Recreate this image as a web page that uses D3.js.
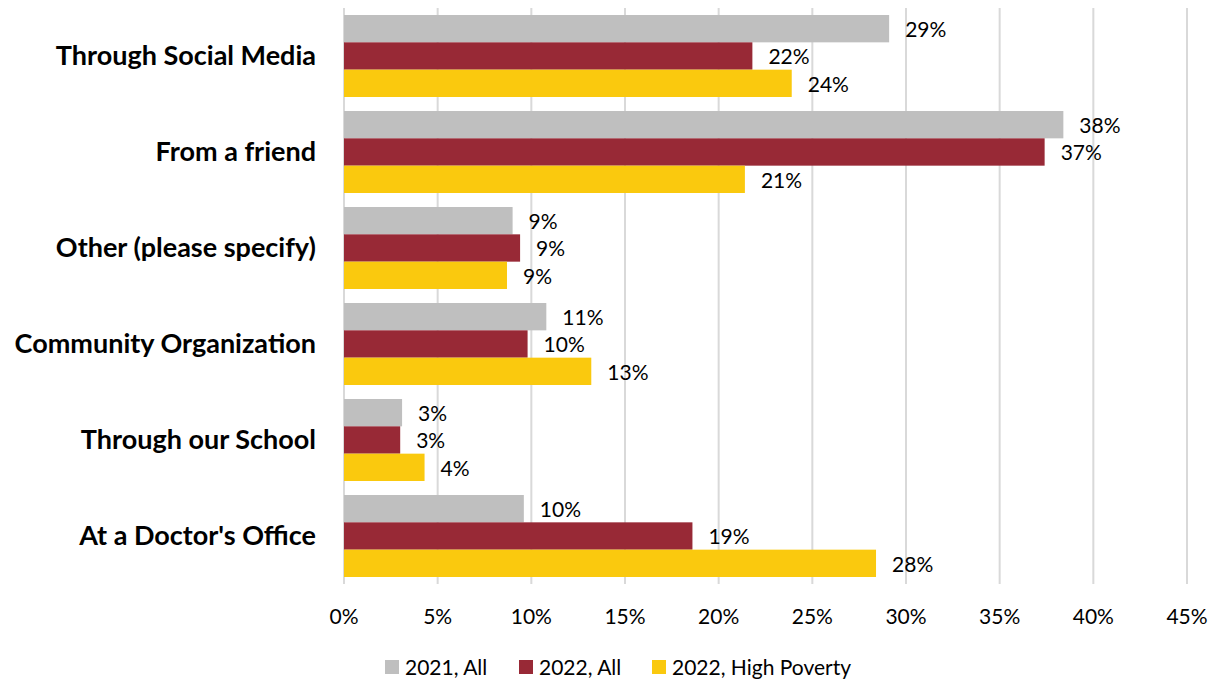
<!DOCTYPE html>
<html>
<head>
<meta charset="utf-8">
<script src="https://cdn.jsdelivr.net/npm/d3@7"></script>
<style>
  body { margin: 0; background: #fff; }
  text { font-family: Lato, "Open Sans", sans-serif; fill: #000; }
</style>
</head>
<body>
<div class="chart"></div>
<script>
var categories = ["Through Social Media", "From a friend", "Other (please specify)", "Community Organization", "Through our School", "At a Doctor's Office"];
var seriesNames = ["2021, All", "2022, All", "2022, High Poverty"];
var colours = ["#bfbfbf", "#982936", "#fac90e"];
var v2021All = [29.1, 38.4, 9.0, 10.8, 3.1, 9.6];
var v2022All = [21.8, 37.4, 9.4, 9.8, 3.0, 18.6];
var v2022Pov = [23.9, 21.4, 8.7, 13.2, 4.3, 28.4];
var labels2021All = ["29%", "38%", "9%", "11%", "3%", "10%"];
var labels2022All = ["22%", "37%", "9%", "10%", "3%", "19%"];
var labels2022Pov = ["24%", "21%", "9%", "13%", "4%", "28%"];
var ticks = [0, 5, 10, 15, 20, 25, 30, 35, 40, 45];

var width = 1217, height = 683;
var svg = d3.select(".chart").append("svg").attr("width", width).attr("height", height);

var x = d3.scaleLinear().domain([0, 45]).range([344, 1187]);
var y = d3.scaleBand().domain(categories).range([8, 584]).paddingInner(0.146).paddingOuter(0.073);
var ySub = d3.scaleBand().domain(seriesNames).range([0, y.bandwidth()]);

var values = [v2021All, v2022All, v2022Pov];
var labels = [labels2021All, labels2022All, labels2022Pov];

var rows = [];
categories.forEach((c, i) => {
    seriesNames.forEach((s, j) => {
        rows.push({cat: c, series: s, value: values[j][i], label: labels[j][i], colour: colours[j]});
    })
})

// gridlines
svg.append("g").selectAll("line")
    .data(ticks)
    .enter()
    .append("line")
    .attr("x1", d => x(d)).attr("x2", d => x(d))
    .attr("y1", 8).attr("y2", 584)
    .attr("stroke", "#d9d9d9")
    .attr("stroke-width", 2);

// bars
svg.append("g").selectAll("rect")
    .data(rows)
    .enter()
    .append("rect")
    .attr("x", x(0))
    .attr("y", d => y(d.cat) + ySub(d.series))
    .attr("width", d => x(d.value) - x(0))
    .attr("height", ySub.bandwidth())
    .attr("fill", d => d.colour);

// value labels
svg.append("g").selectAll("text")
    .data(rows)
    .enter()
    .append("text")
    .attr("x", d => x(d.value) + 16)
    .attr("y", d => y(d.cat) + ySub(d.series) + ySub.bandwidth() / 2 + 1)
    .attr("dy", "0.35em")
    .style("font-size", "21px")
    .text(d => d.label);

// category labels
svg.append("g").selectAll("text")
    .data(categories)
    .enter()
    .append("text")
    .attr("x", 316)
    .attr("y", d => y(d) + y.bandwidth() / 2)
    .attr("dy", "0.35em")
    .attr("text-anchor", "end")
    .style("font-size", "27px")
    .style("font-weight", "bold")
    .text(d => d);

// x axis labels
svg.append("g").selectAll("text")
    .data(ticks)
    .enter()
    .append("text")
    .attr("x", d => x(d))
    .attr("y", 617)
    .attr("dy", "0.35em")
    .attr("text-anchor", "middle")
    .style("font-size", "21px")
    .text(d => d + "%");

// legend
var legendX = [385, 519, 652];
var legend = svg.append("g").selectAll("g")
    .data(seriesNames)
    .enter()
    .append("g")
    .attr("transform", (d, i) => "translate(" + legendX[i] + ",667)");
legend.append("rect")
    .attr("x", 0).attr("y", -7)
    .attr("width", 14).attr("height", 14)
    .attr("fill", (d, i) => colours[i]);
legend.append("text")
    .attr("x", 20).attr("y", 1)
    .attr("dy", "0.35em")
    .style("font-size", "21px")
    .text(d => d);
</script>
</body>
</html>
